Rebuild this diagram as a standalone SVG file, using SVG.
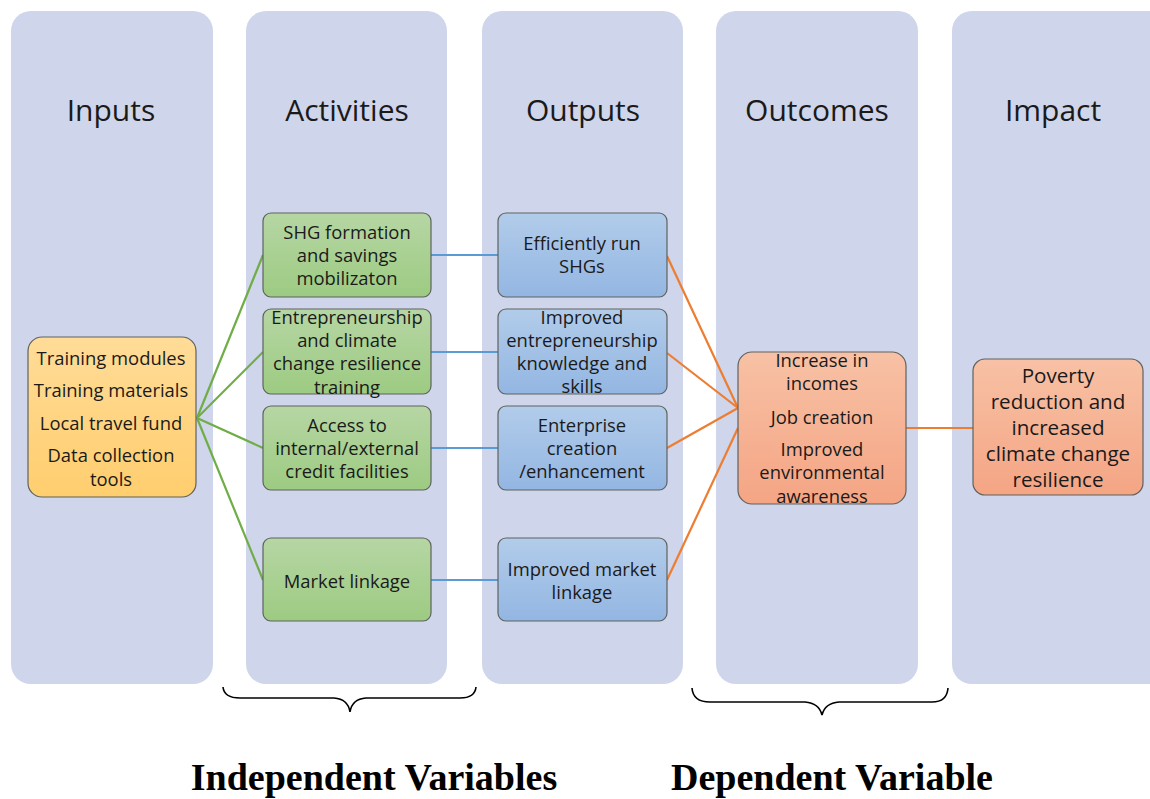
<svg xmlns="http://www.w3.org/2000/svg" width="1150" height="799" viewBox="0 0 1150 799">
<style>
.col{fill:#CFD5EA}
.hd{font-family:"Open Sans","Liberation Sans",sans-serif;font-size:30px;fill:#1a1a1a;text-anchor:middle}
.t{font-family:"Open Sans","Liberation Sans",sans-serif;font-size:18.4px;fill:#1a1a1a;text-anchor:middle;dominant-baseline:central}
.ti{font-family:"Open Sans","Liberation Sans",sans-serif;font-size:20.6px;fill:#1a1a1a;text-anchor:middle;dominant-baseline:central}
.bx{stroke:#5f625f;stroke-width:1.2}
.g{stroke:#70AD47;stroke-width:2.2;fill:none}
.b{stroke:#5B9BD5;stroke-width:2.2;fill:none}
.o{stroke:#ED7D31;stroke-width:2.2;fill:none}
.br{stroke:#000;stroke-width:1.6;fill:none}
.lb{font-family:"Liberation Serif",serif;font-weight:bold;font-size:38px;fill:#000;text-anchor:middle}
</style>
<defs>
<linearGradient id="gy" x1="0" y1="0" x2="0" y2="1"><stop offset="0" stop-color="#FFDC98"/><stop offset="1" stop-color="#FFCE6E"/></linearGradient>
<linearGradient id="gg" x1="0" y1="0" x2="0" y2="1"><stop offset="0" stop-color="#B6D6A4"/><stop offset="1" stop-color="#9DCB82"/></linearGradient>
<linearGradient id="gb" x1="0" y1="0" x2="0" y2="1"><stop offset="0" stop-color="#B2CCEA"/><stop offset="1" stop-color="#93B6E2"/></linearGradient>
<linearGradient id="go" x1="0" y1="0" x2="0" y2="1"><stop offset="0" stop-color="#F8C1A5"/><stop offset="1" stop-color="#F4A584"/></linearGradient>
</defs>
<rect width="1150" height="799" fill="#fff"/>
<g id="columns">
<rect class="col" x="11" y="11" width="202" height="673" rx="20"/>
<rect class="col" x="246" y="11" width="201" height="673" rx="20"/>
<rect class="col" x="482" y="11" width="201" height="673" rx="20"/>
<rect class="col" x="716" y="11" width="202" height="673" rx="20"/>
<rect class="col" x="952" y="11" width="220" height="673" rx="20"/>
<text class="hd" x="111" y="121">Inputs</text>
<text class="hd" x="347" y="121">Activities</text>
<text class="hd" x="583" y="121">Outputs</text>
<text class="hd" x="817" y="121">Outcomes</text>
<text class="hd" x="1053" y="121">Impact</text>
</g>
<g id="connectors">
<line class="g" x1="197" y1="418" x2="263" y2="255"/>
<line class="g" x1="197" y1="418" x2="263" y2="352"/>
<line class="g" x1="197" y1="418" x2="263" y2="448"/>
<line class="g" x1="197" y1="418" x2="263" y2="580"/>
<line class="b" x1="431" y1="255" x2="498" y2="255"/>
<line class="b" x1="431" y1="352" x2="498" y2="352"/>
<line class="b" x1="431" y1="448" x2="498" y2="448"/>
<line class="b" x1="431" y1="580" x2="498" y2="580"/>
<line class="o" x1="667" y1="256" x2="738" y2="408"/>
<line class="o" x1="667" y1="353" x2="738" y2="408"/>
<line class="o" x1="667" y1="448" x2="738" y2="408"/>
<line class="o" x1="667" y1="580" x2="738" y2="428"/>
<line class="o" x1="906" y1="428" x2="973" y2="428"/>
</g>
<g id="n-inputs">
<rect class="bx" x="28" y="337" width="168" height="160" rx="14" fill="url(#gy)"/>
<text class="t" x="111" y="357">Training modules</text>
<text class="t" x="111" y="389">Training materials</text>
<text class="t" x="111" y="422">Local travel fund</text>
<text class="t" x="111" y="454">Data collection</text>
<text class="t" x="111" y="478">tools</text>
</g>
<g id="n-shg">
<rect class="bx" x="263" y="213" width="168" height="84" rx="8" fill="url(#gg)"/>
<text class="t" x="347" y="231">SHG formation</text>
<text class="t" x="347" y="254">and savings</text>
<text class="t" x="347" y="277">mobilizaton</text>
</g>
<g id="n-entre">
<rect class="bx" x="263" y="309" width="168" height="85" rx="8" fill="url(#gg)"/>
<text class="t" x="347" y="316">Entrepreneurship</text>
<text class="t" x="347" y="339">and climate</text>
<text class="t" x="347" y="362">change resilience</text>
<text class="t" x="347" y="386">training</text>
</g>
<g id="n-access">
<rect class="bx" x="263" y="406" width="168" height="84" rx="8" fill="url(#gg)"/>
<text class="t" x="347" y="424">Access to</text>
<text class="t" x="347" y="447">internal/external</text>
<text class="t" x="347" y="470">credit facilities</text>
</g>
<g id="n-market">
<rect class="bx" x="263" y="538" width="168" height="83" rx="8" fill="url(#gg)"/>
<text class="t" x="347" y="580">Market linkage</text>
</g>
<g id="n-eff">
<rect class="bx" x="498" y="213" width="169" height="84" rx="8" fill="url(#gb)"/>
<text class="t" x="582" y="242">Efficiently run</text>
<text class="t" x="582" y="265">SHGs</text>
</g>
<g id="n-impent">
<rect class="bx" x="498" y="309" width="169" height="85" rx="8" fill="url(#gb)"/>
<text class="t" x="582" y="316">Improved</text>
<text class="t" x="582" y="339">entrepreneurship</text>
<text class="t" x="582" y="362">knowledge and</text>
<text class="t" x="582" y="385">skills</text>
</g>
<g id="n-enterprise">
<rect class="bx" x="498" y="406" width="169" height="84" rx="8" fill="url(#gb)"/>
<text class="t" x="582" y="424">Enterprise</text>
<text class="t" x="582" y="447">creation</text>
<text class="t" x="582" y="470">/enhancement</text>
</g>
<g id="n-impmarket">
<rect class="bx" x="498" y="538" width="169" height="83" rx="8" fill="url(#gb)"/>
<text class="t" x="582" y="568">Improved market</text>
<text class="t" x="582" y="591">linkage</text>
</g>
<g id="n-outcomes">
<rect class="bx" x="738" y="352" width="168" height="152" rx="14" fill="url(#go)"/>
<text class="t" x="822" y="359">Increase in</text>
<text class="t" x="822" y="382">incomes</text>
<text class="t" x="822" y="416">Job creation</text>
<text class="t" x="822" y="448">Improved</text>
<text class="t" x="822" y="471">environmental</text>
<text class="t" x="822" y="495">awareness</text>
</g>
<g id="n-impact">
<rect class="bx" x="973" y="359" width="170" height="136" rx="12" fill="url(#go)"/>
<text class="ti" x="1058" y="375">Poverty</text>
<text class="ti" x="1058" y="401">reduction and</text>
<text class="ti" x="1058" y="427">increased</text>
<text class="ti" x="1058" y="453">climate change</text>
<text class="ti" x="1058" y="479">resilience</text>
</g>
<g id="braces">
<path class="br" d="M223,687 Q224,698 240,698 L334,698 Q348,699 350,712 Q352,699 366,698 L460,698 Q475,698 476,687"/>
<path class="br" d="M692,688 Q693,702 710,702 L805,702 Q819,703 822,715 Q825,703 839,702 L932,702 Q947,702 948,688"/>
<text class="lb" x="374" y="790">Independent Variables</text>
<text class="lb" x="832" y="790">Dependent Variable</text>
</g>
</svg>
